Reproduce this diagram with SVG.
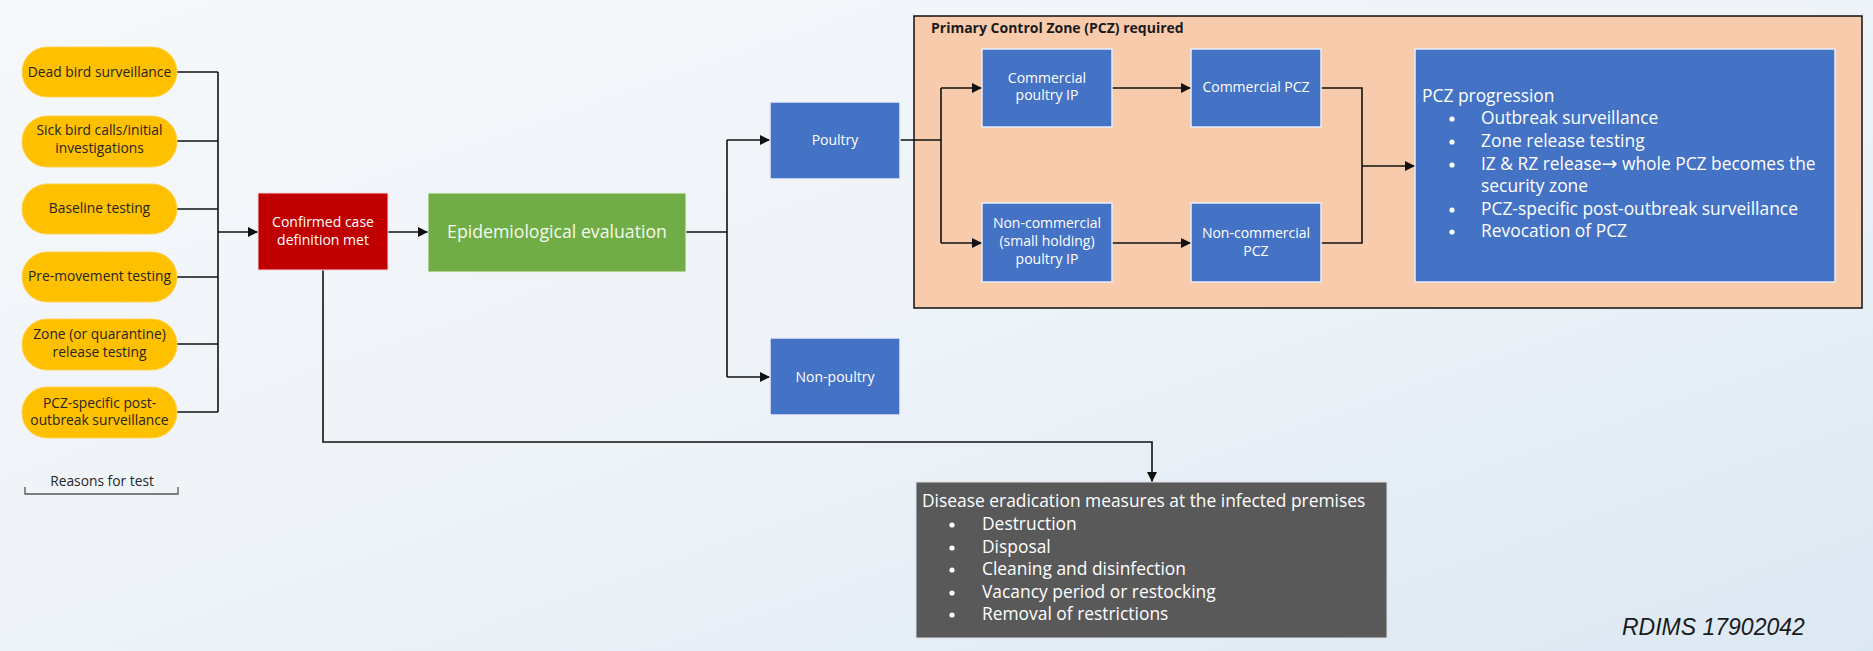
<svg xmlns="http://www.w3.org/2000/svg" width="1873" height="651" viewBox="0 0 1873 651">
<defs>
<linearGradient id="bg" x1="0" y1="0" x2="1" y2="1">
<stop offset="0" stop-color="#F6F8FB"/>
<stop offset="0.5" stop-color="#EEF3F8"/>
<stop offset="1" stop-color="#DCE8F3"/>
</linearGradient>
<marker id="ah" viewBox="0 0 10 10" refX="10" refY="5" markerWidth="10" markerHeight="10" markerUnits="userSpaceOnUse" orient="auto">
<path d="M0,0 L10,5 L0,10 z" fill="#111"/>
</marker>
<style>
.pill{fill:#FFC000;stroke:#FFD34D;stroke-width:1}
.pt{font-family:"Open Sans","Noto Sans",sans-serif;font-size:13.8px;fill:#262626;text-anchor:middle}
.blue{fill:#4472C4;stroke:#E8EEF8;stroke-width:1.5}
.bt{font-family:"Open Sans","Noto Sans",sans-serif;font-size:14px;fill:#FFFFFF;text-anchor:middle}
.lt{font-family:"Open Sans","Noto Sans",sans-serif;font-size:17.4px;fill:#FFFFFF}
.conn{fill:none;stroke:#111;stroke-width:1.6}
</style>
</defs>
<rect x="0" y="0" width="1873" height="651" fill="url(#bg)"/>

<g id="pcz-zone">
<rect x="914" y="16" width="948" height="292" fill="#F8CBAD" stroke="#111" stroke-width="1.5"/>
<text x="931" y="33" font-family="Open Sans, Noto Sans, sans-serif" font-size="14px" font-weight="bold" fill="#1a1a1a">Primary Control Zone (PCZ) required</text>
</g>

<g id="connectors">
<polyline class="conn" points="177,72 218,72"/>
<polyline class="conn" points="177,141 218,141"/>
<polyline class="conn" points="177,209 218,209"/>
<polyline class="conn" points="177,277 218,277"/>
<polyline class="conn" points="177,344 218,344"/>
<polyline class="conn" points="177,412 218,412"/>
<polyline class="conn" points="218,72 218,412"/>
<polyline class="conn" points="218,232 258,232" marker-end="url(#ah)"/>
<polyline class="conn" points="388,232 428,232" marker-end="url(#ah)"/>
<polyline class="conn" points="686,232 727,232"/>
<polyline class="conn" points="727,140 727,377"/>
<polyline class="conn" points="727,140 770,140" marker-end="url(#ah)"/>
<polyline class="conn" points="727,377 770,377" marker-end="url(#ah)"/>
<polyline class="conn" points="900,140 941,140"/>
<polyline class="conn" points="941,88 941,243"/>
<polyline class="conn" points="941,88 982,88" marker-end="url(#ah)"/>
<polyline class="conn" points="941,243 982,243" marker-end="url(#ah)"/>
<polyline class="conn" points="1112,88 1191,88" marker-end="url(#ah)"/>
<polyline class="conn" points="1112,243 1191,243" marker-end="url(#ah)"/>
<polyline class="conn" points="1321,88 1362,88 1362,243 1321,243"/>
<polyline class="conn" points="1362,166 1415,166" marker-end="url(#ah)"/>
<polyline class="conn" points="323,270 323,442 1152,442 1152,482" marker-end="url(#ah)"/>
</g>

<g id="dead-bird"><rect class="pill" x="22" y="47" width="155" height="50" rx="25"/><text class="pt" x="99.5" y="77">Dead bird surveillance</text></g>
<g id="sick-bird"><rect class="pill" x="22" y="116" width="155" height="51" rx="25"/><text class="pt" x="99.5" y="135">Sick bird calls/initial</text><text class="pt" x="99.5" y="153">investigations</text></g>
<g id="baseline"><rect class="pill" x="22" y="184" width="155" height="50" rx="25"/><text class="pt" x="99.5" y="213">Baseline testing</text></g>
<g id="pre-movement"><rect class="pill" x="22" y="252" width="155" height="50" rx="25"/><text class="pt" x="99.5" y="281">Pre-movement testing</text></g>
<g id="zone-release"><rect class="pill" x="22" y="319" width="155" height="51" rx="25"/><text class="pt" x="99.5" y="339">Zone (or quarantine)</text><text class="pt" x="99.5" y="357">release testing</text></g>
<g id="pcz-post"><rect class="pill" x="22" y="387" width="155" height="51" rx="25"/><text class="pt" x="99.5" y="408">PCZ-specific post-</text><text class="pt" x="99.5" y="425">outbreak surveillance</text></g>

<g id="reasons-label">
<text x="102" y="486" font-family="Open Sans, Noto Sans, sans-serif" font-size="13.8px" fill="#262626" text-anchor="middle">Reasons for test</text>
<polyline points="25,487 25,494 178,494 178,487" fill="none" stroke="#555" stroke-width="1.3"/>
</g>

<g id="confirmed"><rect x="258" y="193" width="130" height="77" fill="#C00000" stroke="#F4D8D8" stroke-width="1"/><text class="bt" x="323" y="227">Confirmed case</text><text class="bt" x="323" y="245">definition met</text></g>

<g id="epi"><rect x="428" y="193" width="258" height="79" fill="#70AD47" stroke="#EAF4E0" stroke-width="1"/><text x="557" y="238" font-family="Open Sans, Noto Sans, sans-serif" font-size="17.7px" fill="#F4FAEC" text-anchor="middle">Epidemiological evaluation</text></g>

<g id="poultry"><rect class="blue" x="770" y="102" width="130" height="77"/><text class="bt" x="835" y="145">Poultry</text></g>
<g id="non-poultry"><rect class="blue" x="770" y="338" width="130" height="77"/><text class="bt" x="835" y="382">Non-poultry</text></g>

<g id="commercial-ip"><rect class="blue" x="982" y="49" width="130" height="78"/><text class="bt" x="1047" y="83">Commercial</text><text class="bt" x="1047" y="100">poultry IP</text></g>
<g id="noncommercial-ip"><rect class="blue" x="982" y="203" width="130" height="79"/><text class="bt" x="1047" y="228">Non-commercial</text><text class="bt" x="1047" y="246">(small holding)</text><text class="bt" x="1047" y="264">poultry IP</text></g>
<g id="commercial-pcz"><rect class="blue" x="1191" y="49" width="130" height="78"/><text class="bt" x="1256" y="92">Commercial PCZ</text></g>
<g id="noncommercial-pcz"><rect class="blue" x="1191" y="203" width="130" height="79"/><text class="bt" x="1256" y="238">Non-commercial</text><text class="bt" x="1256" y="256">PCZ</text></g>

<g id="pcz-progression">
<rect class="blue" x="1415" y="49" width="420" height="233"/>
<text class="lt" x="1422" y="102">PCZ progression</text>
<circle cx="1452" cy="119" r="2.6" fill="#fff"/><text class="lt" x="1481" y="124">Outbreak surveillance</text>
<circle cx="1452" cy="142" r="2.6" fill="#fff"/><text class="lt" x="1481" y="147">Zone release testing</text>
<circle cx="1452" cy="165" r="2.6" fill="#fff"/><text class="lt" x="1481" y="170">IZ &amp; RZ release<tspan font-family="DejaVu Sans, sans-serif" font-size="19px">→</tspan> whole PCZ becomes the</text>
<text class="lt" x="1481" y="192">security zone</text>
<circle cx="1452" cy="210" r="2.6" fill="#fff"/><text class="lt" x="1481" y="215">PCZ-specific post-outbreak surveillance</text>
<circle cx="1452" cy="232" r="2.6" fill="#fff"/><text class="lt" x="1481" y="237">Revocation of PCZ</text>
</g>

<g id="eradication">
<rect x="916" y="482" width="471" height="156" fill="#595959" stroke="#E0E0E0" stroke-width="1"/>
<text class="lt" x="922" y="507">Disease eradication measures at the infected premises</text>
<circle cx="952" cy="525" r="2.6" fill="#fff"/><text class="lt" x="982" y="530">Destruction</text>
<circle cx="952" cy="548" r="2.6" fill="#fff"/><text class="lt" x="982" y="553">Disposal</text>
<circle cx="952" cy="570" r="2.6" fill="#fff"/><text class="lt" x="982" y="575">Cleaning and disinfection</text>
<circle cx="952" cy="593" r="2.6" fill="#fff"/><text class="lt" x="982" y="598">Vacancy period or restocking</text>
<circle cx="952" cy="615" r="2.6" fill="#fff"/><text class="lt" x="982" y="620">Removal of restrictions</text>
</g>

<text x="1622" y="635" font-family="Liberation Sans, Arial, sans-serif" font-size="23px" font-style="italic" fill="#1a1a1a">RDIMS 17902042</text>
</svg>
